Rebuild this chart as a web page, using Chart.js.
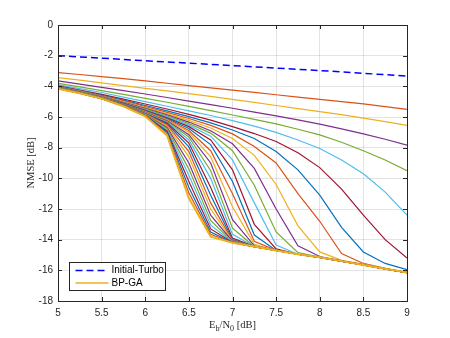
<!DOCTYPE html>
<html>
<head>
<meta charset="utf-8">
<script src="https://cdn.jsdelivr.net/npm/chart.js@4/dist/chart.umd.min.js"></script>
<style>
  html, body { margin: 0; padding: 0; background: #fff; }
  canvas { display: block; }
</style>
</head>
<body>
<canvas id="nmseChart" width="450" height="338"></canvas>
<script>
// Eb/N0 grid [dB]
const ebn0 = [5, 5.25, 5.5, 5.75, 6, 6.25, 6.5, 6.75, 7, 7.25, 7.5, 7.75, 8, 8.25, 8.5, 8.75, 9];

const initialTurbo = [-2.0, -2.08, -2.16, -2.25, -2.33, -2.41, -2.49, -2.57, -2.65, -2.73, -2.81, -2.89, -2.97, -3.06, -3.15, -3.24, -3.33];

// BP-GA iterations, first to last (last one is the converged curve)
const bpgaIterations = [
    [-3.1, -3.23, -3.37, -3.5, -3.65, -3.8, -3.95, -4.1, -4.25, -4.4, -4.55, -4.7, -4.85, -5.0, -5.15, -5.32, -5.5],
    [-3.43, -3.6, -3.78, -3.95, -4.13, -4.3, -4.48, -4.66, -4.85, -5.05, -5.25, -5.45, -5.65, -5.85, -6.07, -6.3, -6.55],
    [-3.65, -3.86, -4.07, -4.28, -4.5, -4.73, -4.96, -5.19, -5.43, -5.68, -5.93, -6.19, -6.46, -6.77, -7.1, -7.45, -7.83],
    [-3.8, -4.04, -4.28, -4.53, -4.78, -5.04, -5.31, -5.59, -5.87, -6.15, -6.45, -6.8, -7.17, -7.65, -8.2, -8.8, -9.5],
    [-3.9, -4.15, -4.4, -4.7, -5.0, -5.3, -5.6, -5.9, -6.24, -6.6, -7.0, -7.5, -8.05, -8.8, -9.7, -10.9, -12.4],
    [-3.97, -4.24, -4.53, -4.83, -5.15, -5.48, -5.83, -6.2, -6.63, -7.08, -7.6, -8.33, -9.3, -10.7, -12.4, -14.0, -15.2],
    [-4.0, -4.28, -4.58, -4.9, -5.25, -5.6, -5.98, -6.38, -6.85, -7.4, -8.25, -9.45, -11.1, -13.2, -14.8, -15.55, -15.95],
    [-4.02, -4.3, -4.62, -4.95, -5.32, -5.7, -6.1, -6.55, -7.1, -7.93, -9.0, -11.0, -12.8, -14.9, -15.55, -15.87, -16.15],
    [-4.03, -4.32, -4.65, -5.0, -5.38, -5.78, -6.22, -6.72, -7.4, -8.5, -10.4, -13.1, -14.8, -15.35, -15.6, -15.87, -16.15],
    [-4.04, -4.34, -4.67, -5.04, -5.44, -5.86, -6.33, -6.9, -7.75, -9.35, -12.0, -14.4, -15.1, -15.38, -15.62, -15.88, -16.15],
    [-4.05, -4.35, -4.69, -5.07, -5.49, -5.93, -6.43, -7.05, -8.2, -10.45, -13.5, -14.85, -15.13, -15.4, -15.64, -15.89, -16.15],
    [-4.06, -4.36, -4.7, -5.09, -5.53, -5.99, -6.53, -7.25, -8.8, -11.6, -14.35, -14.95, -15.15, -15.4, -15.65, -15.9, -16.15],
    [-4.07, -4.37, -4.72, -5.11, -5.57, -6.05, -6.63, -7.5, -9.45, -13.0, -14.6, -14.95, -15.15, -15.4, -15.65, -15.9, -16.15],
    [-4.08, -4.38, -4.73, -5.13, -5.6, -6.1, -6.75, -7.8, -10.2, -13.7, -14.7, -14.95, -15.15, -15.4, -15.65, -15.9, -16.15],
    [-4.08, -4.39, -4.74, -5.15, -5.63, -6.15, -6.88, -8.2, -11.0, -14.1, -14.7, -14.95, -15.15, -15.4, -15.65, -15.9, -16.15],
    [-4.09, -4.4, -4.75, -5.17, -5.66, -6.2, -7.0, -8.6, -11.85, -14.3, -14.7, -14.95, -15.15, -15.4, -15.65, -15.9, -16.15],
    [-4.09, -4.4, -4.76, -5.18, -5.69, -6.25, -7.15, -9.0, -12.7, -14.4, -14.7, -14.95, -15.15, -15.4, -15.65, -15.9, -16.15],
    [-4.1, -4.41, -4.77, -5.2, -5.72, -6.3, -7.3, -9.5, -13.25, -14.45, -14.7, -14.95, -15.15, -15.4, -15.65, -15.9, -16.15],
    [-4.1, -4.41, -4.77, -5.21, -5.74, -6.35, -7.5, -10.0, -13.65, -14.45, -14.7, -14.95, -15.15, -15.4, -15.65, -15.9, -16.15],
    [-4.11, -4.42, -4.78, -5.22, -5.77, -6.4, -7.7, -10.6, -13.9, -14.45, -14.7, -14.95, -15.15, -15.4, -15.65, -15.9, -16.15],
    [-4.11, -4.42, -4.78, -5.23, -5.79, -6.45, -7.95, -11.1, -14.0, -14.45, -14.7, -14.95, -15.15, -15.4, -15.65, -15.9, -16.15],
    [-4.12, -4.43, -4.79, -5.24, -5.81, -6.52, -8.25, -11.6, -14.05, -14.45, -14.7, -14.95, -15.15, -15.4, -15.65, -15.9, -16.15],
    [-4.12, -4.43, -4.79, -5.25, -5.83, -6.6, -8.6, -12.0, -14.1, -14.45, -14.7, -14.95, -15.15, -15.4, -15.65, -15.9, -16.15],
    [-4.13, -4.43, -4.8, -5.26, -5.85, -6.68, -9.0, -12.4, -14.12, -14.45, -14.7, -14.95, -15.15, -15.4, -15.65, -15.9, -16.15],
    [-4.13, -4.44, -4.8, -5.27, -5.87, -6.76, -9.4, -12.75, -14.15, -14.45, -14.7, -14.95, -15.15, -15.4, -15.65, -15.9, -16.15],
    [-4.14, -4.44, -4.8, -5.28, -5.89, -6.85, -9.8, -13.05, -14.17, -14.45, -14.7, -14.95, -15.15, -15.4, -15.65, -15.9, -16.15],
    [-4.14, -4.44, -4.8, -5.28, -5.9, -6.93, -10.2, -13.3, -14.18, -14.45, -14.7, -14.95, -15.15, -15.4, -15.65, -15.9, -16.15],
    [-4.15, -4.45, -4.8, -5.29, -5.92, -7.0, -10.6, -13.5, -14.19, -14.45, -14.7, -14.95, -15.15, -15.4, -15.65, -15.9, -16.15],
    [-4.15, -4.45, -4.8, -5.29, -5.93, -7.1, -10.95, -13.65, -14.2, -14.45, -14.7, -14.95, -15.15, -15.4, -15.65, -15.9, -16.15],
    [-4.15, -4.45, -4.8, -5.3, -5.95, -7.2, -11.3, -13.8, -14.2, -14.45, -14.7, -14.95, -15.15, -15.4, -15.65, -15.9, -16.15]
];

const xTicks = [5, 5.5, 6, 6.5, 7, 7.5, 8, 8.5, 9];
const yTicks = [-18, -16, -14, -12, -10, -8, -6, -4, -2, 0];

// matlab default line colors, starting from the 2nd one
const colorOrder = ['#D95319', '#EDB120', '#7E2F8E', '#77AC30', '#4DBEEE', '#A2142F', '#0072BD'];

const axisColor = '#262626';
const tickFont = { family: 'Liberation Sans, Arial, sans-serif', size: 10 };

function toPoints(vals) {
    return vals.map((v, i) => ({ x: ebn0[i], y: v }));
}

const datasets = [];
const n = bpgaIterations.length;
bpgaIterations.forEach((vals, i) => {
    const last = i === n - 1;
    datasets.push({
        label: last ? 'BP-GA' : 'iter ' + (i + 1),
        data: toPoints(vals),
        borderColor: colorOrder[i % colorOrder.length],
        borderWidth: last ? 2 : 1.2,
        pointRadius: 0,
        order: n - i + 1
    });
});
datasets.push({
    label: 'Initial-Turbo',
    data: toPoints(initialTurbo),
    borderColor: '#0000FF',
    borderWidth: 1.5,
    borderDash: [7, 4],
    pointRadius: 0,
    order: 0
});

// box, inward ticks, axis labels, legend
const matlabAxes = {
    id: 'matlabAxes',
    afterDraw(chart) {
        const ctx = chart.ctx;
        const a = chart.chartArea;
        const xs = chart.scales.x, ys = chart.scales.y;
        ctx.save();
        ctx.strokeStyle = axisColor;
        ctx.lineWidth = 1;
        ctx.strokeRect(Math.round(a.left) + 0.5, Math.round(a.top) + 0.5,
            Math.round(a.right - a.left), Math.round(a.bottom - a.top));
        const tl = 4;
        ctx.beginPath();
        xTicks.forEach(t => {
            const px = Math.round(xs.getPixelForValue(t)) + 0.5;
            ctx.moveTo(px, a.bottom); ctx.lineTo(px, a.bottom - tl);
            ctx.moveTo(px, a.top); ctx.lineTo(px, a.top + tl);
        });
        yTicks.forEach(t => {
            const py = Math.round(ys.getPixelForValue(t)) + 0.5;
            ctx.moveTo(a.left, py); ctx.lineTo(a.left + tl, py);
            ctx.moveTo(a.right, py); ctx.lineTo(a.right - tl, py);
        });
        ctx.stroke();

        // y label
        ctx.fillStyle = axisColor;
        ctx.font = '10.5px "Liberation Serif", "Times New Roman", serif';
        ctx.textAlign = 'center';
        ctx.textBaseline = 'middle';
        ctx.save();
        ctx.translate(31, (a.top + a.bottom) / 2);
        ctx.rotate(-Math.PI / 2);
        ctx.fillText('NMSE [dB]', 0, 0);
        ctx.restore();

        // x label with subscripts
        const big = '10.5px "Liberation Serif", "Times New Roman", serif';
        const small = '8px "Liberation Serif", "Times New Roman", serif';
        const parts = [['E', big, 0], ['b', small, 3], ['/N', big, 0], ['0', small, 3], [' [dB]', big, 0]];
        let total = 0;
        parts.forEach(p => { ctx.font = p[1]; total += ctx.measureText(p[0]).width; });
        let x = (a.left + a.right) / 2 - total / 2;
        ctx.textAlign = 'left';
        ctx.textBaseline = 'alphabetic';
        parts.forEach(p => {
            ctx.font = p[1];
            ctx.fillText(p[0], x, 328 + p[2]);
            x += ctx.measureText(p[0]).width;
        });

        // legend
        const lx = 69.5, ly = 262.5, lw = 96, lh = 28;
        ctx.fillStyle = '#fff';
        ctx.fillRect(lx, ly, lw, lh);
        ctx.strokeStyle = axisColor;
        ctx.lineWidth = 1;
        ctx.strokeRect(lx, ly, lw, lh);
        const entries = [datasets[datasets.length - 1], datasets[n - 1]];
        ctx.font = '10px "Liberation Sans", Arial, sans-serif';
        ctx.textBaseline = 'middle';
        entries.forEach((d, i) => {
            const yy = ly + 8 + i * 12.5;
            ctx.strokeStyle = d.borderColor;
            ctx.lineWidth = d === datasets[n - 1] ? 1.5 : d.borderWidth;
            ctx.setLineDash(d.borderDash || []);
            ctx.beginPath();
            ctx.moveTo(lx + 6, yy); ctx.lineTo(lx + 39, yy);
            ctx.stroke();
            ctx.setLineDash([]);
            ctx.fillStyle = '#000';
            ctx.fillText(d.label, lx + 42, yy);
        });
        ctx.restore();
    }
};

const ctx = document.getElementById('nmseChart').getContext('2d');
const nmseChart = new Chart(ctx, {
    type: 'line',
    data: { datasets: datasets },
    options: {
        responsive: false,
        animation: false,
        layout: { padding: { top: 25, right: 43, left: 0, bottom: 0 } },
        plugins: { legend: { display: false }, tooltip: { enabled: false } },
        elements: { line: { tension: 0 } },
        scales: {
            x: {
                type: 'linear',
                min: 5, max: 9,
                afterFit: s => { s.height = 37; },
                afterBuildTicks: s => { s.ticks = xTicks.map(v => ({ value: v })); },
                grid: { color: 'rgba(38,38,38,0.13)', drawTicks: false },
                border: { display: false },
                ticks: { color: axisColor, font: tickFont, padding: 6, maxRotation: 0, callback: v => String(v) }
            },
            y: {
                min: -18, max: 0,
                afterFit: s => { s.width = 58; },
                afterBuildTicks: s => { s.ticks = yTicks.map(v => ({ value: v })); },
                grid: { color: 'rgba(38,38,38,0.13)', drawTicks: false },
                border: { display: false },
                ticks: { color: axisColor, font: tickFont, padding: 5, callback: v => String(v) }
            }
        }
    },
    plugins: [matlabAxes]
});
</script>
</body>
</html>
